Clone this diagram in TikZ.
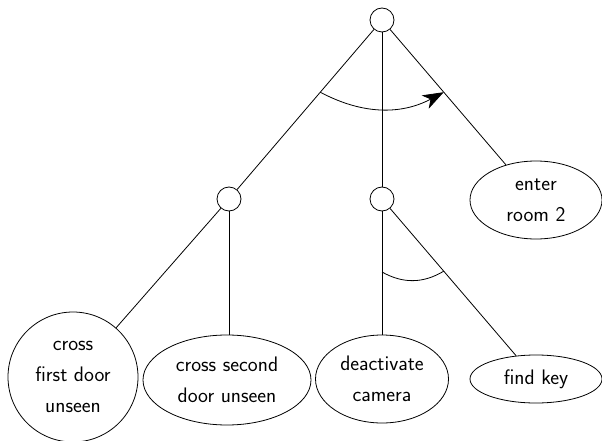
\documentclass[tikz,border=0pt]{standalone}
\usetikzlibrary{shapes.geometric,arrows.meta,calc}
\begin{document}
\begin{tikzpicture}[x=1pt,y=-1pt,
  every node/.style={font=\sffamily\fontsize{21}{31}\selectfont},
  dot/.style={circle,draw,line width=0.8pt,minimum size=24pt,inner sep=0pt},
  leaf/.style={ellipse,draw,line width=0.8pt,inner sep=0pt,align=center},
  edge/.style={line width=0.8pt},
  arcline/.style={line width=0.8pt}]
\useasboundingbox (0,0) rectangle (602,441);
\node[dot] (root) at (382,20) {};
\node[dot] (lc) at (229,199) {};
\node[dot] (mc) at (382,199) {};
\node[leaf,minimum width=132pt,minimum height=78pt] (enter) at (536,200) {enter\\room 2};
\node[circle,draw,line width=0.8pt,inner sep=0pt,minimum size=130pt,align=center] (first) at (73,377) {cross\\first door\\unseen};
\node[leaf,minimum width=168pt,minimum height=90pt] (second) at (227,380) {cross second\\door unseen};
\node[leaf,minimum width=133pt,minimum height=88pt] (deact) at (382,379) {deactivate\\camera};
\node[leaf,minimum width=132pt,minimum height=48pt] (key) at (536,379) {find key};
\draw[edge] (root) -- (lc);
\draw[edge] (root) -- (mc);
\draw[edge] (root) -- (enter);
\draw[edge] (lc) -- (first);
\draw[edge] (lc) -- (lc |- second.north);
\draw[edge] (mc) -- (deact);
\draw[edge] (mc) -- (key);
\coordinate (a1) at ($(root.center)!95pt!(lc.center)$);
\coordinate (a2) at ($(root.center)!95pt!(enter.center)$);
\draw[arcline,-{Stealth[length=21pt,width=15pt,inset=6pt]}] (a1) to[bend right=28] (a2);
\coordinate (b1) at (382,272);
\coordinate (b2) at ($(mc.center)!95pt!(key.center)$);
\draw[arcline] (b1) to[bend right=30] (b2);
\end{tikzpicture}
\end{document}
